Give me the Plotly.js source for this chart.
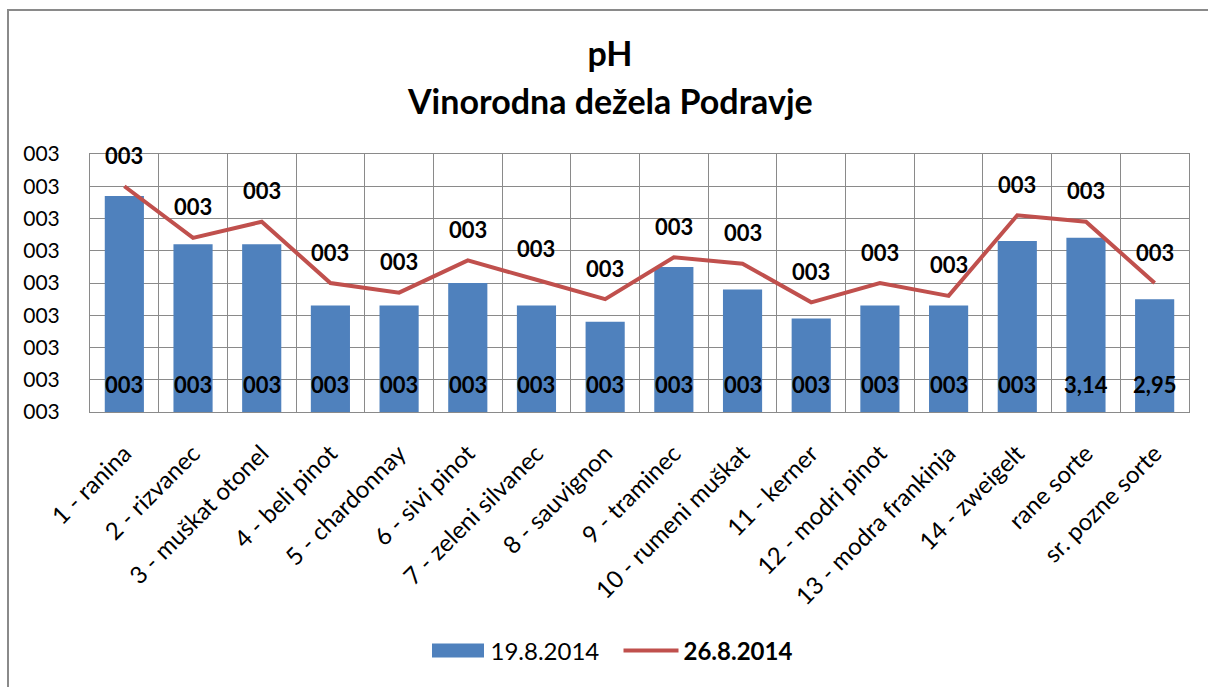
<!DOCTYPE html>
<html>
<head>
<meta charset="utf-8">
<script src="https://cdn.plot.ly/plotly-3.0.1.min.js"></script>
<style>
  html, body { margin: 0; padding: 0; background: #fff; overflow: hidden; }
  #wrap { position: relative; width: 1208px; height: 687px; }
  #chart { position: absolute; left: 0; top: 0; width: 1208px; height: 687px; }
  #frame { position: absolute; left: 7px; top: 9px; width: 1400px; height: 900px;
           border: 2px solid #8a8a8a; pointer-events: none; box-sizing: border-box; }
</style>
</head>
<body>
<div id="wrap">
  <div id="chart"></div>
  <div id="frame"></div>
</div>
<script>
const categories = ["1 - ranina", "2 - rizvanec", "3 - muškat otonel", "4 - beli pinot",
  "5 - chardonnay", "6 - sivi pinot", "7 - zeleni silvanec", "8 - sauvignon",
  "9 - traminec", "10 - rumeni muškat", "11 - kerner", "12 - modri pinot",
  "13 - modra frankinja", "14 - zweigelt", "rane sorte", "sr. pozne sorte"];
const series1Name = "19.8.2014";
const series1 = [3.27, 3.12, 3.12, 2.93, 2.93, 3.00, 2.93, 2.88, 3.05, 2.98, 2.89, 2.93, 2.93, 3.13, 3.14, 2.95];
const series1Labels = ["003","003","003","003","003","003","003","003","003","003","003","003","003","003","3,14","2,95"];
const series2Name = "26.8.2014";
const series2 = [3.30, 3.14, 3.19, 3.00, 2.97, 3.07, 3.01, 2.95, 3.08, 3.06, 2.94, 3.00, 2.96, 3.21, 3.19, 3.00];
const series2Labels = ["003","003","003","003","003","003","003","003","003","003","003","003","003","003","003","003"];
const yTickVals = [2.6, 2.7, 2.8, 2.9, 3.0, 3.1, 3.2, 3.3, 3.4];
const yTickText = ["003","003","003","003","003","003","003","003","003"];

const FONT = "Lato, Carlito, 'Liberation Sans', sans-serif";
const yMin = 2.6, yMax = 3.4;

const barTrace = {
  type: "bar", name: series1Name, x: categories, y: series1,
  marker: { color: "#4F81BD" }, hoverinfo: "x+y"
};
const lineTrace = {
  type: "scatter", mode: "lines", name: "<b>" + series2Name + "</b>",
  x: categories, y: series2,
  line: { color: "#C0504D", width: 4 }, hoverinfo: "x+y"
};

const annotations = [];
categories.forEach((c, i) => {
  annotations.push({
    x: c, y: yMin, xref: "x", yref: "y", yanchor: "bottom", yshift: 12,
    text: "<b>" + series1Labels[i] + "</b>", showarrow: false,
    font: { family: FONT, size: 22, color: "#000" }
  });
  annotations.push({
    x: c, y: series2[i], xref: "x", yref: "y", yanchor: "middle", yshift: 31,
    text: "<b>" + series2Labels[i] + "</b>", showarrow: false,
    font: { family: FONT, size: 22, color: "#000" }
  });
});
annotations.push({
  text: "<b>Vinorodna dežela Podravje</b>", xref: "paper", yref: "paper",
  x: (610 - 90) / 1099, y: (687 - 100 - 275) / 258, xanchor: "center", yanchor: "middle",
  showarrow: false, font: { family: FONT, size: 34, color: "#000" }
});

const layout = {
  width: 1208, height: 687,
  margin: { l: 90, r: 19, t: 154, b: 275 },
  paper_bgcolor: "rgba(0,0,0,0)", plot_bgcolor: "#fff",
  font: { family: FONT, color: "#000" },
  title: { text: "<b>pH</b>", x: 610 / 1208, xanchor: "center", xref: "container",
           y: 1 - 54 / 687, yanchor: "middle", yref: "container",
           font: { family: FONT, size: 34, color: "#000" } },
  bargap: 0.43,
  showlegend: true,
  legend: { orientation: "h", x: (618.5 - 90) / 1099, xanchor: "center", y: -(651 - 412) / 258, yanchor: "middle",
            font: { family: FONT, size: 24, color: "#000" }, itemwidth: 55, entrywidth: 123,
            traceorder: "normal" },
  xaxis: {
    type: "category", tickangle: -45, tickson: "boundaries",
    showgrid: true, gridcolor: "#8a8a8a", gridwidth: 1,
    showline: true, linecolor: "#8a8a8a", linewidth: 1, mirror: true,
    ticks: "", ticklabelstandoff: 17, tickfont: { family: FONT, size: 24, color: "#000" },
    automargin: false
  },
  yaxis: {
    range: [yMin, yMax], tickvals: yTickVals, ticktext: yTickText,
    showgrid: true, gridcolor: "#8a8a8a", gridwidth: 1,
    showline: true, linecolor: "#8a8a8a", linewidth: 1, mirror: true,
    zeroline: false, ticks: "", ticklabelstandoff: 25,
    tickfont: { family: FONT, size: 21, color: "#000" },
    automargin: false
  },
  annotations: annotations
};

Plotly.newPlot("chart", [barTrace, lineTrace], layout, { displayModeBar: false, staticPlot: true }).then(gd => {
  // enlarge the bar legend swatch to match the reference's wide box
  const pts = gd.querySelectorAll(".legend .traces .legendpoints");
  if (pts.length) {
    const p = pts[0].querySelector("path");
    if (p) p.setAttribute("d", "M-26,-7h52v14h-52z");
  }
});
</script>
</body>
</html>
